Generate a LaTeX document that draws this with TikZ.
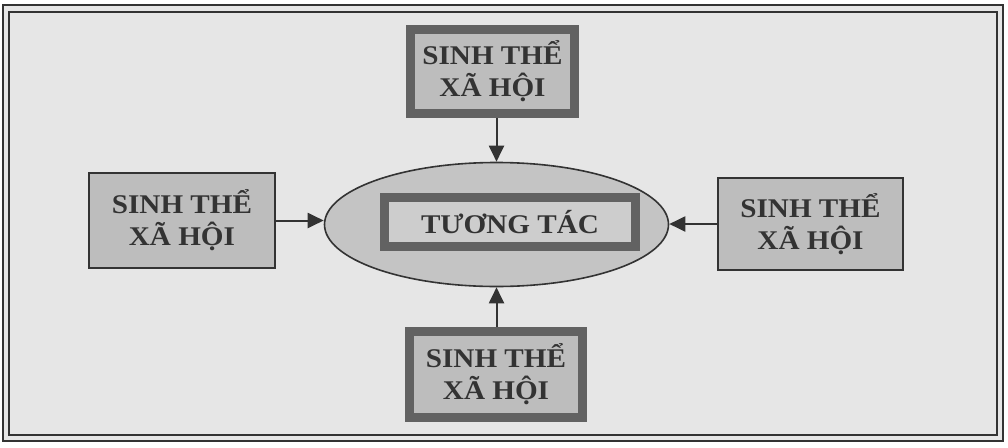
\documentclass[tikz,border=0pt]{standalone}
\usepackage{fontspec}
\newfontfamily\diafont[FakeStretch=1.08]{Liberation Serif}
\usetikzlibrary{arrows.meta,shapes.geometric}
\definecolor{bgfill}{HTML}{E6E6E6}
\definecolor{boxfill}{HTML}{BDBDBD}
\definecolor{ellfill}{HTML}{C4C4C4}
\definecolor{inkgray}{HTML}{333333}
\definecolor{checker}{HTML}{626262}
\tikzset{
  lbl/.style={font=\diafont\bfseries\fontsize{27}{32}\selectfont, text=inkgray, align=center, inner sep=0pt},
  thinbox/.style={lbl, draw=inkgray, line width=1.2pt, fill=boxfill},
  thickbox/.style={lbl, draw=checker, line width=9pt, fill=boxfill},
  centre/.style={ellipse, draw=inkgray, line width=1.6pt, fill=ellfill, inner sep=0pt},
  conn/.style={draw=inkgray, line width=2pt, -{Triangle[length=16pt,width=15pt]}},
}
\begin{document}
\begin{tikzpicture}[x=1pt,y=-1pt]
\useasboundingbox (0,0) rectangle (1008,447);
\fill[white] (0,0) rectangle (1008,447);
\draw[inkgray, line width=2.5pt, fill=bgfill] (3,5) rectangle (1003,441);
\draw[inkgray, line width=1.5pt] (9,12) rectangle (997,435);

\node[centre, minimum width=344pt, minimum height=124pt] (E) at (496.5,224.5) {};
\node[lbl, draw=checker, line width=9pt, fill=ellfill!85!white, minimum width=251pt, minimum height=49pt] (C) at (510,222) {TƯƠNG TÁC};

\node[thickbox, minimum width=164pt, minimum height=84pt] (T) at (492.5,71.5) {SINH THỂ\\XÃ HỘI};
\node[thickbox, minimum width=173pt, minimum height=86pt] (B) at (496,374.5) {SINH THỂ\\XÃ HỘI};
\node[thinbox, minimum width=186pt, minimum height=95pt] (L) at (182,220.5) {SINH THỂ\\XÃ HỘI};
\node[thinbox, minimum width=185pt, minimum height=92pt] (R) at (810.5,224) {SINH THỂ\\XÃ HỘI};

\draw[conn] (T.south -| E.north) -- (E.north);
\draw[conn] (B.north -| E.south) -- (E.south);
\draw[conn] (L.east) -- (E.west |- L.east);
\draw[conn] (R.west) -- (E.east |- R.west);
\end{tikzpicture}
\end{document}
